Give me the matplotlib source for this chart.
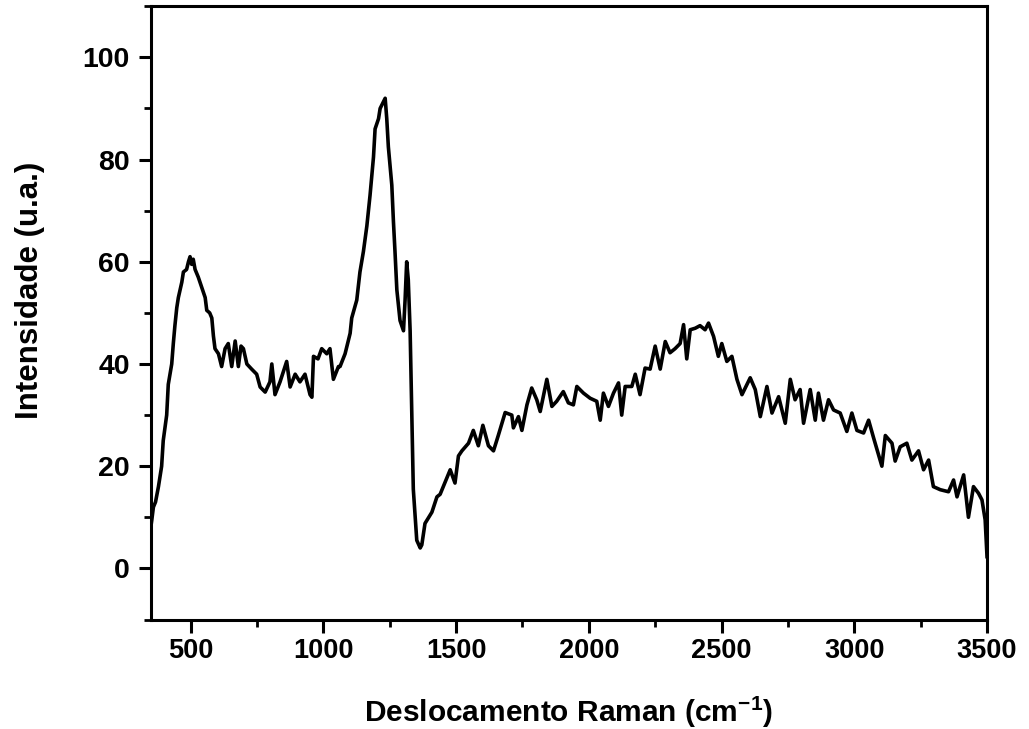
import matplotlib
matplotlib.use("Agg")
import matplotlib.pyplot as plt
from matplotlib.ticker import MultipleLocator

# Raman shift (cm^-1) and intensity (a.u.)
raman_shift = [
    350, 354, 360, 368, 379, 391, 397, 410, 416, 429, 435, 441, 448, 454, 467, 473,
    485, 492, 498, 504, 510, 517, 529, 542, 555, 561, 572, 580, 586, 592, 605, 617,
    630, 642, 655, 668, 680, 690, 699, 712, 730, 749, 762, 781, 799, 806, 818, 837,
    862, 875, 894, 912, 931, 950, 957, 963, 980, 994, 1013, 1025, 1038, 1057, 1063,
    1082, 1101, 1107, 1126, 1138, 1151, 1164, 1176, 1189, 1195, 1208, 1214, 1233,
    1239, 1245, 1258, 1264, 1270, 1277, 1289, 1302, 1308, 1314, 1320, 1327, 1333,
    1339, 1352, 1365, 1371, 1383, 1409, 1428, 1440, 1452, 1478, 1496, 1509, 1522,
    1547, 1565, 1584, 1601, 1622, 1641, 1659, 1685, 1710, 1716, 1735, 1748, 1767,
    1785, 1804, 1817, 1842, 1861, 1879, 1904, 1923, 1942, 1955, 1980, 2005, 2030,
    2043, 2055, 2074, 2093, 2112, 2124, 2137, 2162, 2175, 2193, 2212, 2231, 2250,
    2269, 2288, 2306, 2325, 2344, 2357, 2369, 2382, 2401, 2419, 2438, 2451, 2470,
    2488, 2501, 2520, 2539, 2558, 2577, 2608, 2627, 2646, 2671, 2690, 2715, 2740,
    2759, 2777, 2796, 2809, 2834, 2853, 2865, 2884, 2903, 2922, 2947, 2972, 2991,
    3010, 3035, 3054, 3073, 3104, 3117, 3142, 3154, 3173, 3198, 3217, 3242, 3261,
    3280, 3298, 3324, 3355, 3374, 3387, 3412, 3430, 3449, 3468, 3481, 3493, 3500,
]
intensity = [
    8, 9.5, 12, 13, 16, 20, 25, 30, 36, 40, 44, 47.5, 51, 53, 56, 58,
    58.5, 60, 61, 59.5, 60.5, 58.5, 57, 55, 53, 50.5, 50, 49, 45.5, 43, 42, 39.5,
    43, 44, 39.5, 44.5, 39.5, 43.5, 43, 40, 39, 38, 35.5, 34.5, 36.5, 40, 34, 36.5,
    40.5, 35.5, 38, 36.5, 38, 34, 33.5, 41.5, 41, 43, 42, 43, 37, 39.5, 39.5,
    42, 46, 49, 52.5, 58, 62, 67, 73, 80.5, 86, 88, 90, 92,
    88, 82.5, 75, 68, 62, 54.5, 48.5, 46.5, 52.5, 60, 56.5, 46.5, 31.5,
    15.5, 5.5, 4, 4.6, 8.8, 11, 14, 14.5, 16, 19.3, 16.7, 22, 23,
    24.5, 27, 24, 28, 24, 23, 26, 30.5, 30, 27.5, 29.7, 27, 32,
    35.3, 33, 30.7, 37, 31.7, 32.7, 34.6, 32.4, 32, 35.6, 34.3, 33.3, 32.7,
    29, 34.3, 31.7, 34.3, 36.3, 30, 35.6, 35.6, 38, 34, 39.2, 39, 43.5,
    39, 44.4, 42.2, 43, 44, 47.7, 41, 46.7, 47, 47.5, 46.7, 48, 45.4,
    41.5, 44, 40.5, 41.5, 37, 34, 37.3, 35, 29.7, 35.6, 30.4, 33.6, 28.4,
    37, 33, 35, 28.4, 35, 29, 34.3, 29, 33, 31, 30.4, 26.8, 30.4,
    27, 26.5, 29, 25.5, 20, 26, 24.5, 21, 23.8, 24.5, 21.2, 23, 19.3,
    21.2, 16, 15.4, 15, 17.3, 14, 18.3, 10, 16, 14.7, 13.4, 9.5, 2.3,
]

x_label = "Deslocamento Raman (cm$^{\\mathbf{-1}}$)"
y_label = "Intensidade (u.a.)"

plt.rcParams["font.family"] = ["Liberation Sans", "DejaVu Sans"]
plt.rcParams["mathtext.fontset"] = "custom"
plt.rcParams["mathtext.bf"] = "Liberation Sans:bold"
plt.rcParams["mathtext.rm"] = "Liberation Sans:bold"
plt.rcParams["mathtext.default"] = "bf"

fig = plt.figure(figsize=(10.29, 7.29), dpi=100)
ax = fig.add_axes([0.1465, 0.1502, 0.9592 - 0.1465, 0.9914 - 0.1502])

ax.plot(raman_shift, intensity, color="black", linewidth=2.6)

ax.set_xlim(350, 3500)
ax.set_ylim(-10, 110)
ax.xaxis.set_major_locator(MultipleLocator(500))
ax.xaxis.set_minor_locator(MultipleLocator(250))
ax.yaxis.set_major_locator(MultipleLocator(20))
ax.yaxis.set_minor_locator(MultipleLocator(10))

for s in ax.spines.values():
    s.set_linewidth(2.2)

ax.tick_params(axis="both", which="major", direction="out", length=9, width=2.2,
               top=False, right=False)
ax.tick_params(axis="x", which="major", labelsize=19.5, pad=4)
ax.tick_params(axis="y", which="major", labelsize=20.5, pad=6)
ax.tick_params(axis="both", which="minor", direction="out", length=5, width=2.0,
               top=False, right=False)
for lab in ax.get_xticklabels() + ax.get_yticklabels():
    lab.set_fontweight("bold")

ax.set_xlabel(x_label, fontsize=21.5, fontweight="bold")
ax.set_ylabel(y_label, fontsize=22.5, fontweight="bold")
ax.xaxis.set_label_coords(0.5, -0.122)
ax.yaxis.set_label_coords(-0.126, 0.537)

fig.savefig("out.png", dpi=100)
